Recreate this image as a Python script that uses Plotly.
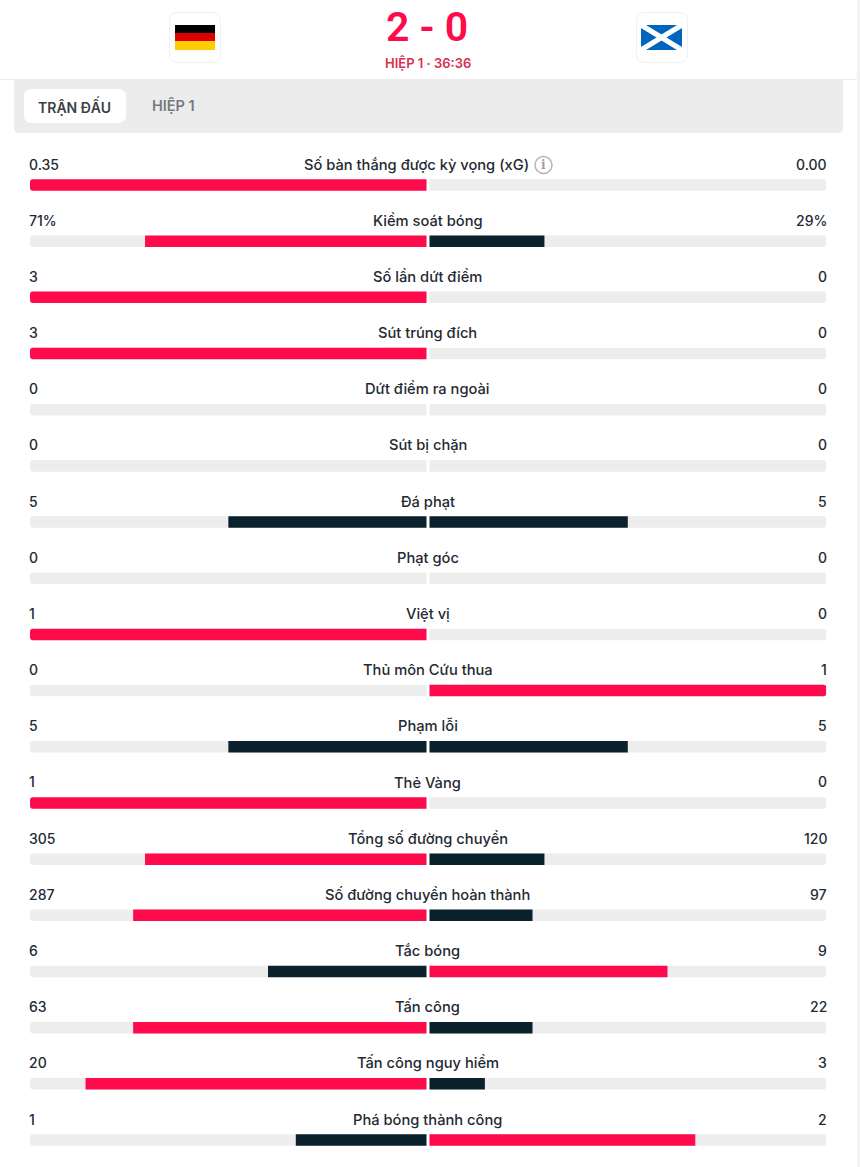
import plotly.graph_objects as go

W, H = 860, 1167

stats = ["Số bàn thắng được kỳ vọng (xG)", "Kiểm soát bóng", "Số lần dứt điểm", "Sút trúng đích",
         "Dứt điểm ra ngoài", "Sút bị chặn", "Đá phạt", "Phạt góc", "Việt vị", "Thủ môn Cứu thua",
         "Phạm lỗi", "Thẻ Vàng", "Tổng số đường chuyền", "Số đường chuyền hoàn thành", "Tắc bóng",
         "Tấn công", "Tấn công nguy hiểm", "Phá bóng thành công"]
home_labels = ["0.35", "71%", "3", "3", "0", "0", "5", "0", "1", "0", "5", "1", "305", "287", "6", "63", "20", "1"]
away_labels = ["0.00", "29%", "0", "0", "0", "0", "5", "0", "0", "1", "5", "0", "120", "97", "9", "22", "3", "2"]
home_share = [100, 71, 100, 100, 0, 0, 50, 0, 100, 0, 50, 100, 71, 74, 40, 74, 86, 33]
away_share = [0, 29, 0, 0, 0, 0, 50, 0, 0, 100, 50, 0, 29, 26, 60, 26, 14, 67]
track = [100] * len(stats)

RED = "#ff0a4b"
DARK = "#0b212b"
TRACK = "#ededed"
INK = "#1f2a33"
FONT = "Inter"


def fill_colors(mine, other):
    return [RED if m > o else DARK for m, o in zip(mine, other)]


def px(x):
    return x / W


def py(y):
    return 1 - y / H


def rect(x0, y0, x1, y1, color, line=None):
    return dict(type="rect", xref="paper", yref="paper", x0=px(x0), x1=px(x1), y0=py(y0), y1=py(y1),
                fillcolor=color, line=dict(color=line or color, width=1 if line else 0), layer="below")


def round_rect(x0, y0, x1, y1, r, color, line=None, top=True):
    # rounded box as svg path, coordinates in paper units
    rt = r if top else 0
    pts = [
        f"M {px(x0 + rt)} {py(y0)}", f"L {px(x1 - rt)} {py(y0)}", f"Q {px(x1)} {py(y0)} {px(x1)} {py(y0 + rt)}",
        f"L {px(x1)} {py(y1 - r)}", f"Q {px(x1)} {py(y1)} {px(x1 - r)} {py(y1)}",
        f"L {px(x0 + r)} {py(y1)}", f"Q {px(x0)} {py(y1)} {px(x0)} {py(y1 - r)}",
        f"L {px(x0)} {py(y0 + rt)}", f"Q {px(x0)} {py(y0)} {px(x0 + rt)} {py(y0)}", "Z",
    ]
    return dict(type="path", xref="paper", yref="paper", path=" ".join(pts), fillcolor=color,
                line=dict(color=line or color, width=1 if line else 0), layer="below")


fig = go.Figure()

fig.add_trace(go.Bar(y=stats, x=track, orientation="h", xaxis="x", yaxis="y", width=0.205,
                     marker=dict(color=TRACK, line_width=0), hoverinfo="skip"))
fig.add_trace(go.Bar(y=stats, x=track, orientation="h", xaxis="x2", yaxis="y", width=0.205,
                     marker=dict(color=TRACK, line_width=0), hoverinfo="skip"))
fig.add_trace(go.Bar(y=stats, x=home_share, orientation="h", xaxis="x", yaxis="y", width=0.205,
                     marker=dict(color=fill_colors(home_share, away_share), line_width=0)))
fig.add_trace(go.Bar(y=stats, x=away_share, orientation="h", xaxis="x2", yaxis="y", width=0.205,
                     marker=dict(color=fill_colors(away_share, home_share), line_width=0)))

shapes = [
    rect(857, 0, 860, H, "#f3f3f3"),
    rect(0, 79, 857, 80, "#ebebeb"),
    round_rect(14, 80, 843, 133, 6, "#ececec", top=False),
    round_rect(24, 89, 126, 123, 8, "#ffffff"),
    # team badges
    round_rect(169.5, 12.5, 220.5, 62.5, 8, "#ffffff", line="#f0f0f0"),
    round_rect(636.5, 12.5, 687.5, 62.5, 8, "#ffffff", line="#f0f0f0"),
    # germany
    rect(175, 25, 215, 33, "#000000"),
    rect(175, 33, 215, 41, "#dd0000"),
    rect(175, 41, 215, 50, "#ffce00"),
    # scotland
    rect(641, 25, 682, 50, "#0065bd"),
    dict(type="line", xref="paper", yref="paper", x0=px(641), y0=py(25), x1=px(682), y1=py(50),
         line=dict(color="#ffffff", width=5), layer="below"),
    dict(type="line", xref="paper", yref="paper", x0=px(641), y0=py(50), x1=px(682), y1=py(25),
         line=dict(color="#ffffff", width=5), layer="below"),
    # info icon
    dict(type="circle", xref="paper", yref="paper", x0=px(535), x1=px(552), y0=py(156.5), y1=py(173.5),
         line=dict(color="#b5b5b5", width=1.5), fillcolor="#ffffff", layer="below"),
]

annotations = []


def note(text, x, y, size, color=INK, anchor="center", weight=500, family=FONT):
    annotations.append(dict(text=text, x=px(x), y=py(y), xref="paper", yref="paper", showarrow=False,
                            xanchor=anchor, yanchor="middle", borderpad=0,
                            font=dict(family=family, size=size, color=color, weight=weight)))


note("2 - 0", 427, 27, 41, RED, weight=600, family="Roboto")
note("HIỆP 1 · 36:36", 427.5, 63, 13, "#d9304f", weight=600)
note("TRẬN ĐẤU", 74.5, 105.5, 14, "#3a3f44", weight=600)
note("HIỆP 1", 173.5, 105.5, 14.5, "#77797c", weight=600)
note("i", 543.5, 165, 12, "#a0a0a0", weight=700, family="DejaVu Serif")

for i, name in enumerate(stats):
    # labels sit about 21px above their bar
    label_x = 416.5 if i == 0 else 427.5
    for text, x, anchor, size, shift in [(name, px(label_x), "center", 14.7, 20.4),
                                         (home_labels[i], px(28), "left", 14, 21),
                                         (away_labels[i], px(828), "right", 14, 21)]:
        annotations.append(dict(text=text, x=x, y=name, xref="paper", yref="y", yshift=shift, showarrow=False,
                                xanchor=anchor, yanchor="middle", borderpad=0,
                                font=dict(family=FONT, size=size, color=INK, weight=500)))

fig.update_layout(
    width=W, height=H, margin=dict(l=0, r=0, t=0, b=0),
    paper_bgcolor="#ffffff", plot_bgcolor="#ffffff",
    barmode="overlay", barcornerradius=3, showlegend=False,
    font=dict(family=FONT),
    xaxis=dict(domain=[px(30), px(426.7)], range=[100, 0], visible=False, fixedrange=True),
    xaxis2=dict(domain=[px(429.3), px(826.3)], range=[0, 100], visible=False, fixedrange=True, anchor="y"),
    yaxis=dict(range=[17.48, -3.293], visible=False, type="category", categoryorder="array",
               categoryarray=stats, fixedrange=True),
    shapes=shapes, annotations=annotations,
)

fig.write_html("out.html", config=dict(displayModeBar=False), post_script="document.body.style.margin='0';")
